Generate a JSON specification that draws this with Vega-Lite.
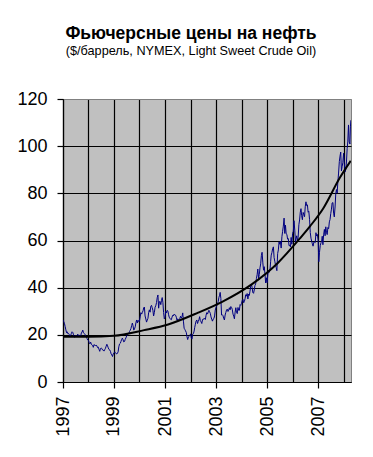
{
  "$schema": "https://vega.github.io/schema/vega-lite/v6.json",
  "width": 288,
  "height": 283,
  "autosize": "none",
  "padding": {"left": 63, "top": 99, "right": 22, "bottom": 75},
  "background": "white",
  "config": {
    "view": {"fill": "#c0c0c0", "stroke": "#808080", "strokeWidth": 1},
    "font": "Liberation Sans"
  },
  "title": {
    "text": "Фьючерсные цены на нефть",
    "subtitle": "($/баррель, NYMEX, Light Sweet Crude Oil)",
    "font": "Liberation Sans",
    "fontSize": 17.5,
    "fontWeight": "bold",
    "color": "black",
    "subtitleFont": "Liberation Sans",
    "subtitleFontSize": 12.7,
    "subtitleColor": "black",
    "subtitlePadding": 3,
    "anchor": "middle",
    "dx": -16,
    "offset": 32
  },
  "datasets": {
    "price": [
      {"d":"1997-01-01","p":26.3},{"d":"1997-01-11","p":25.6},{"d":"1997-01-21","p":24.9},
      {"d":"1997-02-01","p":23.5},{"d":"1997-02-11","p":22.1},{"d":"1997-02-21","p":20.9},
      {"d":"1997-03-01","p":21.3},{"d":"1997-03-11","p":20.5},{"d":"1997-03-21","p":20.6},
      {"d":"1997-04-01","p":20.1},{"d":"1997-04-11","p":19.3},{"d":"1997-04-21","p":19.8},
      {"d":"1997-05-01","p":20.6},{"d":"1997-05-11","p":21.3},{"d":"1997-05-21","p":21.0},
      {"d":"1997-06-01","p":20.0},{"d":"1997-06-11","p":19.1},{"d":"1997-06-21","p":19.0},
      {"d":"1997-07-01","p":19.7},{"d":"1997-07-11","p":19.2},{"d":"1997-07-21","p":19.8},
      {"d":"1997-08-01","p":20.3},{"d":"1997-08-11","p":19.6},{"d":"1997-08-21","p":19.8},
      {"d":"1997-09-01","p":19.5},{"d":"1997-09-11","p":19.4},{"d":"1997-09-21","p":20.8},
      {"d":"1997-10-01","p":21.2},{"d":"1997-10-11","p":22.0},{"d":"1997-10-21","p":20.9},
      {"d":"1997-11-01","p":20.6},{"d":"1997-11-11","p":20.3},{"d":"1997-11-21","p":19.4},
      {"d":"1997-12-01","p":19.0},{"d":"1997-12-11","p":18.4},{"d":"1997-12-21","p":17.8},
      {"d":"1998-01-01","p":17.6},{"d":"1998-01-11","p":16.7},{"d":"1998-01-21","p":16.2},
      {"d":"1998-02-01","p":16.9},{"d":"1998-02-11","p":16.0},{"d":"1998-02-21","p":15.6},
      {"d":"1998-03-01","p":15.5},{"d":"1998-03-11","p":14.7},{"d":"1998-03-21","p":15.9},
      {"d":"1998-04-01","p":15.6},{"d":"1998-04-11","p":15.3},{"d":"1998-04-21","p":15.7},
      {"d":"1998-05-01","p":15.3},{"d":"1998-05-11","p":14.6},{"d":"1998-05-21","p":14.8},
      {"d":"1998-06-01","p":13.8},{"d":"1998-06-11","p":13.0},{"d":"1998-06-21","p":14.2},
      {"d":"1998-07-01","p":14.4},{"d":"1998-07-11","p":14.2},{"d":"1998-07-21","p":13.6},
      {"d":"1998-08-01","p":13.5},{"d":"1998-08-11","p":13.1},{"d":"1998-08-21","p":13.7},
      {"d":"1998-09-01","p":14.3},{"d":"1998-09-11","p":15.2},{"d":"1998-09-21","p":16.0},
      {"d":"1998-10-01","p":15.3},{"d":"1998-10-11","p":14.5},{"d":"1998-10-21","p":13.8},
      {"d":"1998-11-01","p":13.6},{"d":"1998-11-11","p":13.0},{"d":"1998-11-21","p":11.9},
      {"d":"1998-12-01","p":11.5},{"d":"1998-12-11","p":10.8},{"d":"1998-12-21","p":11.9},
      {"d":"1999-01-01","p":12.3},{"d":"1999-01-11","p":12.8},{"d":"1999-01-21","p":12.4},
      {"d":"1999-02-01","p":12.0},{"d":"1999-02-11","p":11.9},{"d":"1999-02-21","p":12.3},
      {"d":"1999-03-01","p":12.8},{"d":"1999-03-11","p":14.9},{"d":"1999-03-21","p":16.1},
      {"d":"1999-04-01","p":16.4},{"d":"1999-04-11","p":17.2},{"d":"1999-04-21","p":18.1},
      {"d":"1999-05-01","p":18.6},{"d":"1999-05-11","p":17.9},{"d":"1999-05-21","p":17.0},
      {"d":"1999-06-01","p":17.2},{"d":"1999-06-11","p":18.1},{"d":"1999-06-21","p":18.7},
      {"d":"1999-07-01","p":19.5},{"d":"1999-07-11","p":20.0},{"d":"1999-07-21","p":20.4},
      {"d":"1999-08-01","p":20.5},{"d":"1999-08-11","p":21.4},{"d":"1999-08-21","p":21.9},
      {"d":"1999-09-01","p":22.7},{"d":"1999-09-11","p":23.9},{"d":"1999-09-21","p":25.0},
      {"d":"1999-10-01","p":23.8},{"d":"1999-10-11","p":22.0},{"d":"1999-10-21","p":22.5},
      {"d":"1999-11-01","p":23.4},{"d":"1999-11-11","p":25.2},{"d":"1999-11-21","p":26.3},
      {"d":"1999-12-01","p":25.0},{"d":"1999-12-11","p":26.2},{"d":"1999-12-21","p":25.6},
      {"d":"2000-01-01","p":25.8},{"d":"2000-01-11","p":27.6},{"d":"2000-01-21","p":29.4},
      {"d":"2000-02-01","p":28.8},{"d":"2000-02-11","p":29.5},{"d":"2000-02-21","p":30.2},
      {"d":"2000-03-01","p":31.4},{"d":"2000-03-11","p":31.8},{"d":"2000-03-21","p":28.0},
      {"d":"2000-04-01","p":26.7},{"d":"2000-04-11","p":25.4},{"d":"2000-04-21","p":26.3},
      {"d":"2000-05-01","p":27.0},{"d":"2000-05-11","p":29.4},{"d":"2000-05-21","p":30.6},
      {"d":"2000-06-01","p":29.6},{"d":"2000-06-11","p":32.1},{"d":"2000-06-21","p":32.5},
      {"d":"2000-07-01","p":31.5},{"d":"2000-07-11","p":30.4},{"d":"2000-07-21","p":28.0},
      {"d":"2000-08-01","p":29.5},{"d":"2000-08-11","p":31.7},{"d":"2000-08-21","p":32.3},
      {"d":"2000-09-01","p":33.7},{"d":"2000-09-11","p":35.8},{"d":"2000-09-21","p":36.9},
      {"d":"2000-10-01","p":31.3},{"d":"2000-10-11","p":34.0},{"d":"2000-10-21","p":34.2},
      {"d":"2000-11-01","p":32.8},{"d":"2000-11-11","p":34.6},{"d":"2000-11-21","p":35.8},
      {"d":"2000-12-01","p":33.8},{"d":"2000-12-11","p":29.5},{"d":"2000-12-21","p":26.8},
      {"d":"2001-01-01","p":27.4},{"d":"2001-01-11","p":30.0},{"d":"2001-01-21","p":29.3},
      {"d":"2001-02-01","p":30.4},{"d":"2001-02-11","p":30.0},{"d":"2001-02-21","p":28.5},
      {"d":"2001-03-01","p":27.5},{"d":"2001-03-11","p":27.0},{"d":"2001-03-21","p":26.6},
      {"d":"2001-04-01","p":26.4},{"d":"2001-04-11","p":27.5},{"d":"2001-04-21","p":28.3},
      {"d":"2001-05-01","p":28.0},{"d":"2001-05-11","p":28.8},{"d":"2001-05-21","p":28.5},
      {"d":"2001-06-01","p":28.3},{"d":"2001-06-11","p":27.5},{"d":"2001-06-21","p":26.2},
      {"d":"2001-07-01","p":26.8},{"d":"2001-07-11","p":26.2},{"d":"2001-07-21","p":26.5},
      {"d":"2001-08-01","p":27.0},{"d":"2001-08-11","p":27.9},{"d":"2001-08-21","p":27.1},
      {"d":"2001-09-01","p":27.7},{"d":"2001-09-11","p":29.3},{"d":"2001-09-21","p":25.8},
      {"d":"2001-10-01","p":22.8},{"d":"2001-10-11","p":22.3},{"d":"2001-10-21","p":21.7},
      {"d":"2001-11-01","p":21.0},{"d":"2001-11-11","p":19.2},{"d":"2001-11-21","p":18.0},
      {"d":"2001-12-01","p":19.1},{"d":"2001-12-11","p":19.3},{"d":"2001-12-21","p":19.6},
      {"d":"2002-01-01","p":20.4},{"d":"2002-01-11","p":18.8},{"d":"2002-01-21","p":18.2},
      {"d":"2002-02-01","p":20.3},{"d":"2002-02-11","p":20.5},{"d":"2002-02-21","p":21.6},
      {"d":"2002-03-01","p":23.0},{"d":"2002-03-11","p":24.5},{"d":"2002-03-21","p":25.8},
      {"d":"2002-04-01","p":26.3},{"d":"2002-04-11","p":24.8},{"d":"2002-04-21","p":25.7},
      {"d":"2002-05-01","p":26.4},{"d":"2002-05-11","p":27.7},{"d":"2002-05-21","p":26.0},
      {"d":"2002-06-01","p":25.5},{"d":"2002-06-11","p":24.8},{"d":"2002-06-21","p":26.3},
      {"d":"2002-07-01","p":26.8},{"d":"2002-07-11","p":26.6},{"d":"2002-07-21","p":27.0},
      {"d":"2002-08-01","p":26.5},{"d":"2002-08-11","p":28.3},{"d":"2002-08-21","p":29.4},
      {"d":"2002-09-01","p":28.8},{"d":"2002-09-11","p":29.7},{"d":"2002-09-21","p":30.4},
      {"d":"2002-10-01","p":29.8},{"d":"2002-10-11","p":29.1},{"d":"2002-10-21","p":27.6},
      {"d":"2002-11-01","p":26.5},{"d":"2002-11-11","p":25.8},{"d":"2002-11-21","p":26.7},
      {"d":"2002-12-01","p":26.9},{"d":"2002-12-11","p":28.0},{"d":"2002-12-21","p":30.5},
      {"d":"2003-01-01","p":31.7},{"d":"2003-01-11","p":32.3},{"d":"2003-01-21","p":33.0},
      {"d":"2003-02-01","p":34.1},{"d":"2003-02-11","p":35.9},{"d":"2003-02-21","p":36.8},
      {"d":"2003-03-01","p":38.0},{"d":"2003-03-11","p":35.4},{"d":"2003-03-21","p":28.4},
      {"d":"2003-04-01","p":28.5},{"d":"2003-04-11","p":28.1},{"d":"2003-04-21","p":26.9},
      {"d":"2003-05-01","p":26.3},{"d":"2003-05-11","p":28.4},{"d":"2003-05-21","p":29.5},
      {"d":"2003-06-01","p":30.6},{"d":"2003-06-11","p":30.9},{"d":"2003-06-21","p":29.9},
      {"d":"2003-07-01","p":30.5},{"d":"2003-07-11","p":31.5},{"d":"2003-07-21","p":30.6},
      {"d":"2003-08-01","p":32.0},{"d":"2003-08-11","p":31.6},{"d":"2003-08-21","p":30.8},
      {"d":"2003-09-01","p":28.8},{"d":"2003-09-11","p":27.9},{"d":"2003-09-21","p":26.8},
      {"d":"2003-10-01","p":29.6},{"d":"2003-10-11","p":31.5},{"d":"2003-10-21","p":29.4},
      {"d":"2003-11-01","p":29.0},{"d":"2003-11-11","p":31.6},{"d":"2003-11-21","p":30.4},
      {"d":"2003-12-01","p":30.4},{"d":"2003-12-11","p":32.8},{"d":"2003-12-21","p":32.5},
      {"d":"2004-01-01","p":33.4},{"d":"2004-01-11","p":34.6},{"d":"2004-01-21","p":35.0},
      {"d":"2004-02-01","p":33.6},{"d":"2004-02-11","p":34.2},{"d":"2004-02-21","p":35.4},
      {"d":"2004-03-01","p":37.0},{"d":"2004-03-11","p":36.4},{"d":"2004-03-21","p":37.5},
      {"d":"2004-04-01","p":35.2},{"d":"2004-04-11","p":37.3},{"d":"2004-04-21","p":36.7},
      {"d":"2004-05-01","p":38.5},{"d":"2004-05-11","p":40.6},{"d":"2004-05-21","p":41.5},
      {"d":"2004-06-01","p":40.0},{"d":"2004-06-11","p":37.9},{"d":"2004-06-21","p":37.6},
      {"d":"2004-07-01","p":39.0},{"d":"2004-07-11","p":40.9},{"d":"2004-07-21","p":41.6},
      {"d":"2004-08-01","p":43.9},{"d":"2004-08-11","p":45.5},{"d":"2004-08-21","p":47.9},
      {"d":"2004-09-01","p":43.9},{"d":"2004-09-11","p":45.6},{"d":"2004-09-21","p":48.4},
      {"d":"2004-10-01","p":50.1},{"d":"2004-10-11","p":53.6},{"d":"2004-10-21","p":55.0},
      {"d":"2004-11-01","p":50.5},{"d":"2004-11-11","p":47.4},{"d":"2004-11-21","p":48.9},
      {"d":"2004-12-01","p":46.0},{"d":"2004-12-11","p":42.0},{"d":"2004-12-21","p":44.2},
      {"d":"2005-01-01","p":42.1},{"d":"2005-01-11","p":45.4},{"d":"2005-01-21","p":47.4},
      {"d":"2005-02-01","p":46.5},{"d":"2005-02-11","p":47.5},{"d":"2005-02-21","p":51.2},
      {"d":"2005-03-01","p":53.8},{"d":"2005-03-11","p":54.9},{"d":"2005-03-21","p":56.5},
      {"d":"2005-04-01","p":57.3},{"d":"2005-04-11","p":52.8},{"d":"2005-04-21","p":51.2},
      {"d":"2005-05-01","p":49.7},{"d":"2005-05-11","p":48.5},{"d":"2005-05-21","p":47.2},
      {"d":"2005-06-01","p":54.5},{"d":"2005-06-11","p":56.0},{"d":"2005-06-21","p":59.4},
      {"d":"2005-07-01","p":58.4},{"d":"2005-07-11","p":59.6},{"d":"2005-07-21","p":56.8},
      {"d":"2005-08-01","p":61.6},{"d":"2005-08-11","p":63.9},{"d":"2005-08-21","p":66.1},
      {"d":"2005-09-01","p":69.5},{"d":"2005-09-11","p":63.0},{"d":"2005-09-21","p":66.5},
      {"d":"2005-10-01","p":62.8},{"d":"2005-10-11","p":62.6},{"d":"2005-10-21","p":60.6},
      {"d":"2005-11-01","p":60.8},{"d":"2005-11-11","p":57.8},{"d":"2005-11-21","p":58.0},
      {"d":"2005-12-01","p":57.3},{"d":"2005-12-11","p":61.3},{"d":"2005-12-21","p":58.4},
      {"d":"2006-01-01","p":63.1},{"d":"2006-01-11","p":63.9},{"d":"2006-01-21","p":68.4},
      {"d":"2006-02-01","p":64.4},{"d":"2006-02-11","p":59.3},{"d":"2006-02-21","p":61.0},
      {"d":"2006-03-01","p":62.0},{"d":"2006-03-11","p":60.1},{"d":"2006-03-21","p":61.2},
      {"d":"2006-04-01","p":66.7},{"d":"2006-04-11","p":68.7},{"d":"2006-04-21","p":72.0},
      {"d":"2006-05-01","p":73.5},{"d":"2006-05-11","p":70.5},{"d":"2006-05-21","p":68.8},
      {"d":"2006-06-01","p":71.9},{"d":"2006-06-11","p":71.0},{"d":"2006-06-21","p":70.1},
      {"d":"2006-07-01","p":74.3},{"d":"2006-07-11","p":76.4},{"d":"2006-07-21","p":74.8},
      {"d":"2006-08-01","p":75.1},{"d":"2006-08-11","p":72.0},{"d":"2006-08-21","p":72.4},
      {"d":"2006-09-01","p":68.8},{"d":"2006-09-11","p":63.4},{"d":"2006-09-21","p":61.0},
      {"d":"2006-10-01","p":59.7},{"d":"2006-10-11","p":58.6},{"d":"2006-10-21","p":57.6},
      {"d":"2006-11-01","p":59.3},{"d":"2006-11-11","p":59.3},{"d":"2006-11-21","p":59.1},
      {"d":"2006-12-01","p":63.3},{"d":"2006-12-11","p":61.9},{"d":"2006-12-21","p":62.6},
      {"d":"2007-01-01","p":60.2},{"d":"2007-01-11","p":51.0},{"d":"2007-01-21","p":55.0},
      {"d":"2007-02-01","p":57.8},{"d":"2007-02-11","p":59.0},{"d":"2007-02-21","p":59.8},
      {"d":"2007-03-01","p":61.8},{"d":"2007-03-11","p":58.2},{"d":"2007-03-21","p":62.4},
      {"d":"2007-04-01","p":64.7},{"d":"2007-04-11","p":62.0},{"d":"2007-04-21","p":65.8},
      {"d":"2007-05-01","p":63.5},{"d":"2007-05-11","p":62.5},{"d":"2007-05-21","p":65.5},
      {"d":"2007-06-01","p":65.0},{"d":"2007-06-11","p":67.9},{"d":"2007-06-21","p":68.9},
      {"d":"2007-07-01","p":71.4},{"d":"2007-07-11","p":73.3},{"d":"2007-07-21","p":75.9},
      {"d":"2007-08-01","p":76.1},{"d":"2007-08-11","p":71.6},{"d":"2007-08-21","p":70.0},
      {"d":"2007-09-01","p":74.2},{"d":"2007-09-11","p":79.9},{"d":"2007-09-21","p":81.6},
      {"d":"2007-10-01","p":80.1},{"d":"2007-10-11","p":84.9},{"d":"2007-10-21","p":88.6},
      {"d":"2007-11-01","p":93.5},{"d":"2007-11-11","p":95.8},{"d":"2007-11-21","p":97.5},
      {"d":"2007-12-01","p":89.5},{"d":"2007-12-11","p":91.3},{"d":"2007-12-21","p":93.0},
      {"d":"2008-01-01","p":97.0},{"d":"2008-01-11","p":92.7},{"d":"2008-01-21","p":89.0},
      {"d":"2008-02-01","p":90.0},{"d":"2008-02-11","p":93.3},{"d":"2008-02-21","p":99.0},
      {"d":"2008-03-01","p":101.8},{"d":"2008-03-11","p":109.0},{"d":"2008-03-21","p":101.8},
      {"d":"2008-04-01","p":100.9},{"d":"2008-04-08","p":108.5},{"d":"2008-04-14","p":111.0}
    ],
    "trend": [
      {"d":"1997-01-01","t":19.2},
      {"d":"1998-01-01","t":19.2},
      {"d":"1999-01-01","t":19.6},
      {"d":"2000-03-07","t":22.0},
      {"d":"2001-02-14","t":24.4},
      {"d":"2002-04-20","t":29.4},
      {"d":"2003-03-29","t":34.0},
      {"d":"2004-05-30","t":41.5},
      {"d":"2005-06-07","t":50.6},
      {"d":"2006-04-16","t":60.9},
      {"d":"2006-09-09","t":66.1},
      {"d":"2007-03-15","t":73.6},
      {"d":"2007-11-10","t":86.7},
      {"d":"2008-04-12","t":93.8}
    ]
  },
  "encoding": {
    "x": {
      "field": "d",
      "type": "temporal",
      "title": null,
      "scale": {"type": "utc", "domain": [{"year": 1997, "month": 1, "date": 1, "utc": true}, {"year": 2008, "month": 4, "date": 16, "utc": true}]},
      "axis": {
        "values": [
          {"year": 1997, "month": 1, "date": 1, "utc": true},
          {"year": 1998, "month": 1, "date": 1, "utc": true},
          {"year": 1999, "month": 1, "date": 1, "utc": true},
          {"year": 2000, "month": 1, "date": 1, "utc": true},
          {"year": 2001, "month": 1, "date": 1, "utc": true},
          {"year": 2002, "month": 1, "date": 1, "utc": true},
          {"year": 2003, "month": 1, "date": 1, "utc": true},
          {"year": 2004, "month": 1, "date": 1, "utc": true},
          {"year": 2005, "month": 1, "date": 1, "utc": true},
          {"year": 2006, "month": 1, "date": 1, "utc": true},
          {"year": 2007, "month": 1, "date": 1, "utc": true},
          {"year": 2008, "month": 1, "date": 1, "utc": true}
        ],
        "labelExpr": "utcyear(datum.value) % 2 == 1 ? utcFormat(datum.value, '%Y') : ''",
        "labelAngle": 270,
        "labelAlign": "right",
        "labelBaseline": "middle",
        "labelFont": "Liberation Sans",
        "labelFontSize": 18,
        "labelColor": "black",
        "labelPadding": 8,
        "labelOverlap": false,
        "labelFlush": false,
        "grid": true,
        "gridColor": "black",
        "gridWidth": 1.2,
        "gridOpacity": 1,
        "domainColor": "black",
        "domainWidth": 1.2,
        "tickColor": "black",
        "tickWidth": 1.2,
        "tickSize": 6,
        "tickOpacity": {"condition": {"test": "utcyear(datum.value) % 2 == 1", "value": 1}, "value": 0}
      }
    }
  },
  "layer": [
    {
      "data": {"name": "price"},
      "mark": {"type": "line", "color": "#000080", "strokeWidth": 1, "clip": true},
      "encoding": {
        "y": {
          "field": "p",
          "type": "quantitative",
          "title": null,
          "scale": {"domain": [0, 120], "nice": false},
          "axis": {
            "values": [0, 20, 40, 60, 80, 100, 120],
            "labelFont": "Liberation Sans",
            "labelFontSize": 18,
            "labelColor": "black",
            "labelPadding": 10,
            "labelFlush": false,
            "grid": true,
            "gridColor": {"condition": {"test": "datum.value == 120", "value": "#808080"}, "value": "black"},
            "gridWidth": 1.2,
            "gridOpacity": 1,
            "domainColor": "black",
            "domainWidth": 1.2,
            "tickColor": "black",
            "tickWidth": 1.2,
            "tickSize": 6
          }
        }
      }
    },
    {
      "data": {"name": "trend"},
      "mark": {"type": "line", "color": "black", "strokeWidth": 2, "interpolate": "monotone", "clip": true},
      "encoding": {
        "y": {"field": "t", "type": "quantitative"}
      }
    }
  ]
}
